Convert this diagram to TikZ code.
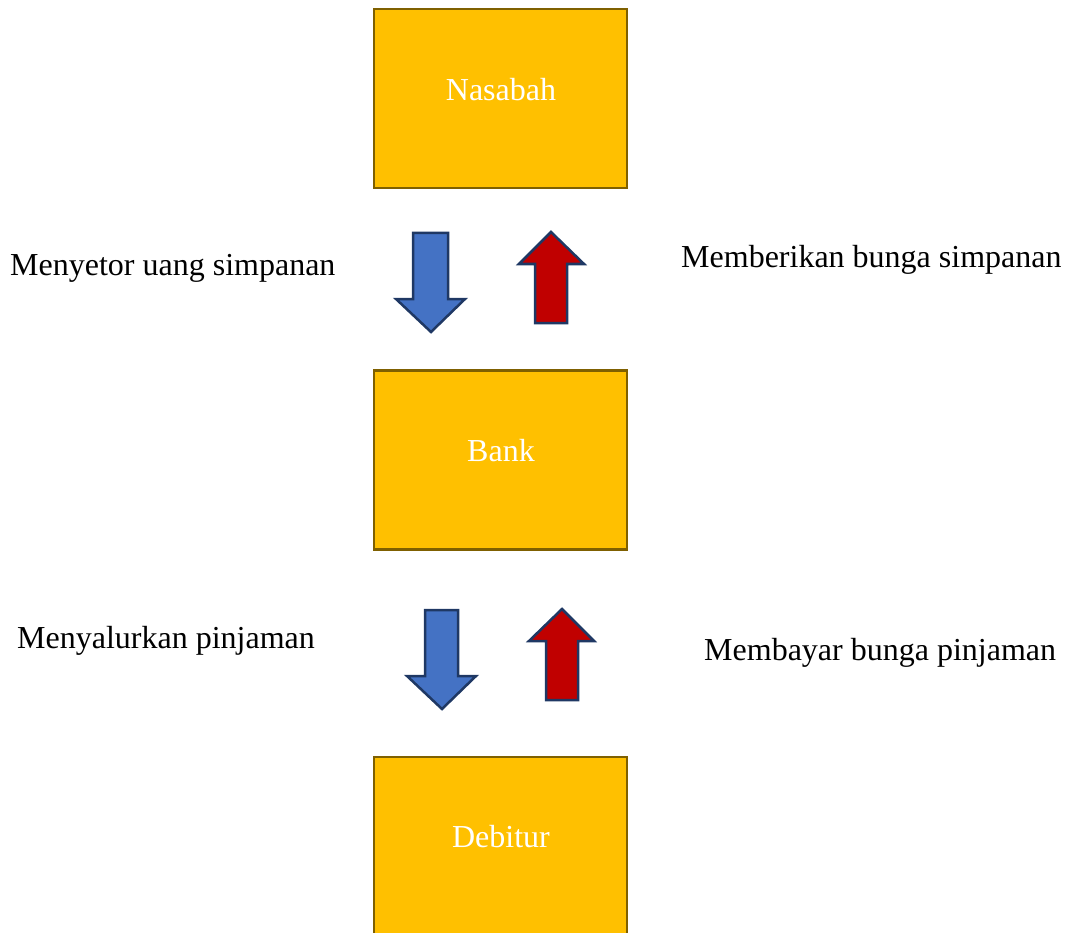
\documentclass[tikz,border=0pt]{standalone}
\usepackage{fontspec}
\setmainfont{Liberation Serif}
\definecolor{boxfill}{HTML}{FFC000}
\definecolor{boxline}{HTML}{7F6000}
\definecolor{arrblue}{HTML}{4472C4}
\definecolor{arrred}{HTML}{C00000}
\definecolor{arrline}{HTML}{1F3864}
\tikzset{
  entity/.style={draw=boxline, line width=2.5pt, fill=boxfill, minimum width=253pt, minimum height=179pt, inner sep=0pt},
  entitytext/.style={inner sep=0pt, anchor=base, text=white, font=\fontsize{32}{38}\selectfont},
  blockarrow/.style={draw=arrline, line width=2.5pt, line join=miter},
  downarrow/.style={blockarrow, fill=arrblue},
  uparrow/.style={blockarrow, fill=arrred},
  lbl/.style={inner sep=0pt, anchor=base west, font=\fontsize{32}{38}\selectfont, text=black}
}
\begin{document}
\begin{tikzpicture}[x=1pt,y=-1pt]
\useasboundingbox (0,0) rectangle (1070,933);
\clip (0,0) rectangle (1070,933);
\node[entity] (nasabah) at (500.5,98.5) {};
\node[entitytext] (tn) at (501,101) {Nasabah};
\node[entity] (bank) at (500.5,460) {};
\node[entitytext] (tb) at (501,461) {Bank};
\node[entity] (debitur) at (500.5,846.5) {};
\node[entitytext] (td) at (501,847) {Debitur};
% first pair
\draw[downarrow] (413,233) -- (448,233) -- (448,299) -- (465,299) -- (431,332) -- (396,299) -- (413,299) -- cycle;
\draw[uparrow] (551,232) -- (584,264) -- (567,264) -- (567,323) -- (535,323) -- (535,264) -- (519,264) -- cycle;
% second pair
\draw[downarrow] (425,610) -- (458,610) -- (458,676) -- (476,676) -- (442,709) -- (407,676) -- (425,676) -- cycle;
\draw[uparrow] (562,609) -- (594,641) -- (578,641) -- (578,700) -- (546,700) -- (546,641) -- (529,641) -- cycle;
% labels
\node[lbl] (l1) at (10,275) {Menyetor uang simpanan};
\node[lbl] (l2) at (681,267) {Memberikan bunga simpanan};
\node[lbl] (l3) at (17,648) {Menyalurkan pinjaman};
\node[lbl] (l4) at (704,660) {Membayar bunga pinjaman};
\end{tikzpicture}
\end{document}
